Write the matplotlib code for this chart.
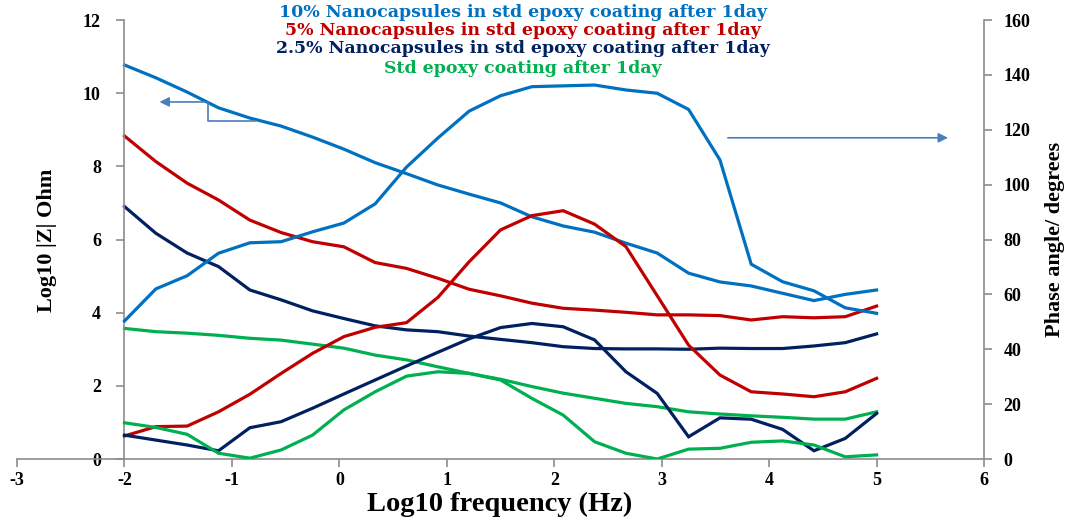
import numpy as np
import matplotlib
matplotlib.use('Agg')
import matplotlib.pyplot as plt

plt.rcParams['font.family'] = ['Liberation Serif', 'DejaVu Serif']
plt.rcParams['font.weight'] = 'bold'
plt.rcParams['axes.unicode_minus'] = False

# log10 frequency (Hz)
log_f = [-2.0, -1.708, -1.417, -1.125, -0.833, -0.542, -0.25, 0.042, 0.333,
         0.625, 0.917, 1.208, 1.5, 1.792, 2.083, 2.375, 2.667, 2.958, 3.25,
         3.542, 3.833, 4.125, 4.417, 4.708, 5.0]

# Log10 |Z| (left axis)
z_10 = [10.77, 10.42, 10.03, 9.6, 9.32, 9.1, 8.8, 8.47, 8.1, 7.8, 7.49, 7.24,
        7.0, 6.62, 6.37, 6.2, 5.9, 5.63, 5.08, 4.84, 4.73, 4.53, 4.33, 4.5, 4.62]
z_5 = [8.83, 8.13, 7.54, 7.08, 6.53, 6.19, 5.94, 5.8, 5.37, 5.21, 4.94, 4.64,
       4.46, 4.26, 4.12, 4.07, 4.01, 3.94, 3.94, 3.92, 3.8, 3.89, 3.86, 3.89, 4.18]
z_25 = [6.9, 6.17, 5.63, 5.26, 4.62, 4.35, 4.05, 3.84, 3.64, 3.53, 3.48, 3.36,
        3.27, 3.18, 3.07, 3.02, 3.01, 3.01, 3.0, 3.03, 3.02, 3.02, 3.09, 3.18, 3.42]
z_std = [3.57, 3.48, 3.44, 3.38, 3.3, 3.25, 3.14, 3.03, 2.84, 2.71, 2.52, 2.34,
         2.18, 1.98, 1.8, 1.66, 1.52, 1.43, 1.29, 1.23, 1.18, 1.14, 1.09, 1.09, 1.29]

# phase angle, degrees (right axis)
ph_10 = [50.3, 62, 66.8, 75, 78.8, 79.2, 82.8, 86, 93, 106.4, 117, 126.8, 132.4,
         135.7, 136, 136.3, 134.5, 133.3, 127.4, 109, 71, 64.6, 61.3, 55.1, 53.1]
ph_5 = [8.4, 11.8, 12.0, 17.2, 23.6, 31.2, 38.5, 44.6, 48, 49.7, 58.9, 71.9, 83.5,
        88.7, 90.5, 85.6, 77.4, 59.5, 41.5, 30.6, 24.5, 23.7, 22.7, 24.5, 29.4]
ph_25 = [8.7, 6.9, 5.1, 3.0, 11.4, 13.6, 18.5, 23.7, 28.8, 33.9, 38.9, 43.8, 47.9,
         49.4, 48.2, 43.4, 31.8, 23.9, 8.1, 15, 14.5, 10.8, 3.0, 7.5, 16.6]
ph_std = [13.2, 11.5, 9.0, 2.1, 0.3, 3.3, 8.7, 17.9, 24.5, 30.2, 31.8, 31.2, 28.8,
          22.1, 16, 6.3, 2.1, 0, 3.6, 3.9, 6.1, 6.6, 5.1, 0.8, 1.5]

labels = ['10% Nanocapsules in std epoxy coating after 1day',
          '5% Nanocapsules in std epoxy coating after 1day',
          '2.5% Nanocapsules in std epoxy coating after 1day',
          'Std epoxy coating after 1day']
colors = ['#0070C0', '#C00000', '#002060', '#00B050']

fig = plt.figure(figsize=(10.79, 5.25), dpi=100)
ax = fig.add_axes([0.0158, 0.1257, 0.8962, 0.8362])
ax2 = ax.twinx()

for z, c in zip([z_10, z_5, z_25, z_std], colors):
    ax.plot(log_f, z, color=c, lw=2.3, solid_joinstyle='miter')
for p, c in zip([ph_10, ph_5, ph_25, ph_std], colors):
    ax2.plot(log_f, p, color=c, lw=2.3, solid_joinstyle='miter')

ax.set_xlim(-3, 6)
ax.set_ylim(0, 12)
ax2.set_ylim(0, 160)
ax.set_xticks(range(-3, 7))
ax.set_yticks(range(0, 13, 2))
ax2.set_yticks(range(0, 161, 20))

grey = '#8c8c8c'
for a in (ax, ax2):
    a.spines['top'].set_visible(False)
    for s in a.spines.values():
        s.set_color(grey)
        s.set_linewidth(1.2)
    a.tick_params(colors=grey, labelcolor='black', labelsize=13, width=1.2, length=6)
ax.tick_params(axis='y', pad=11)
ax2.tick_params(axis='y', pad=8)
ax.spines['right'].set_visible(False)
ax2.spines['left'].set_visible(False)
ax2.spines['bottom'].set_visible(False)
ax.spines['left'].set_position(('data', -2))
ax.patch.set_visible(False)

for t in ax.get_xticklabels() + ax.get_yticklabels() + ax2.get_yticklabels():
    t.set_fontweight('bold')

fig.text(0.0435, 0.543, 'Log10 |Z| Ohm', rotation=90, ha='center', va='center',
         fontsize=16, fontweight='bold')
fig.text(0.978, 0.543, 'Phase angle/ degrees', rotation=90, ha='center', va='center',
         fontsize=16, fontweight='bold')
fig.text(0.4635, 0.04, 'Log10 frequency (Hz)', ha='center', va='center',
         fontsize=20.5, fontweight='bold')

ys = [0.977, 0.941, 0.907, 0.870]
for lab, c, y in zip(labels, colors, ys):
    fig.text(0.4847, y, lab, color=c, ha='center', va='center', fontsize=12.5,
             fontweight='bold', family=['DejaVu Serif'])

# arrows pointing at the axes
acol = '#4a7ebb'
ax.plot([-1.226, -1.226, -0.79], [9.76, 9.24, 9.24], color=acol, lw=1.2)
ax.annotate('', xy=(-1.70, 9.76), xytext=(-1.226, 9.76),
            arrowprops=dict(arrowstyle='-|>', color=acol, lw=1.2, mutation_scale=14))
ax.annotate('', xy=(5.69, 8.78), xytext=(3.59, 8.78),
            arrowprops=dict(arrowstyle='-|>', color=acol, lw=1.2, mutation_scale=14))

fig.savefig('out.png', dpi=100)
